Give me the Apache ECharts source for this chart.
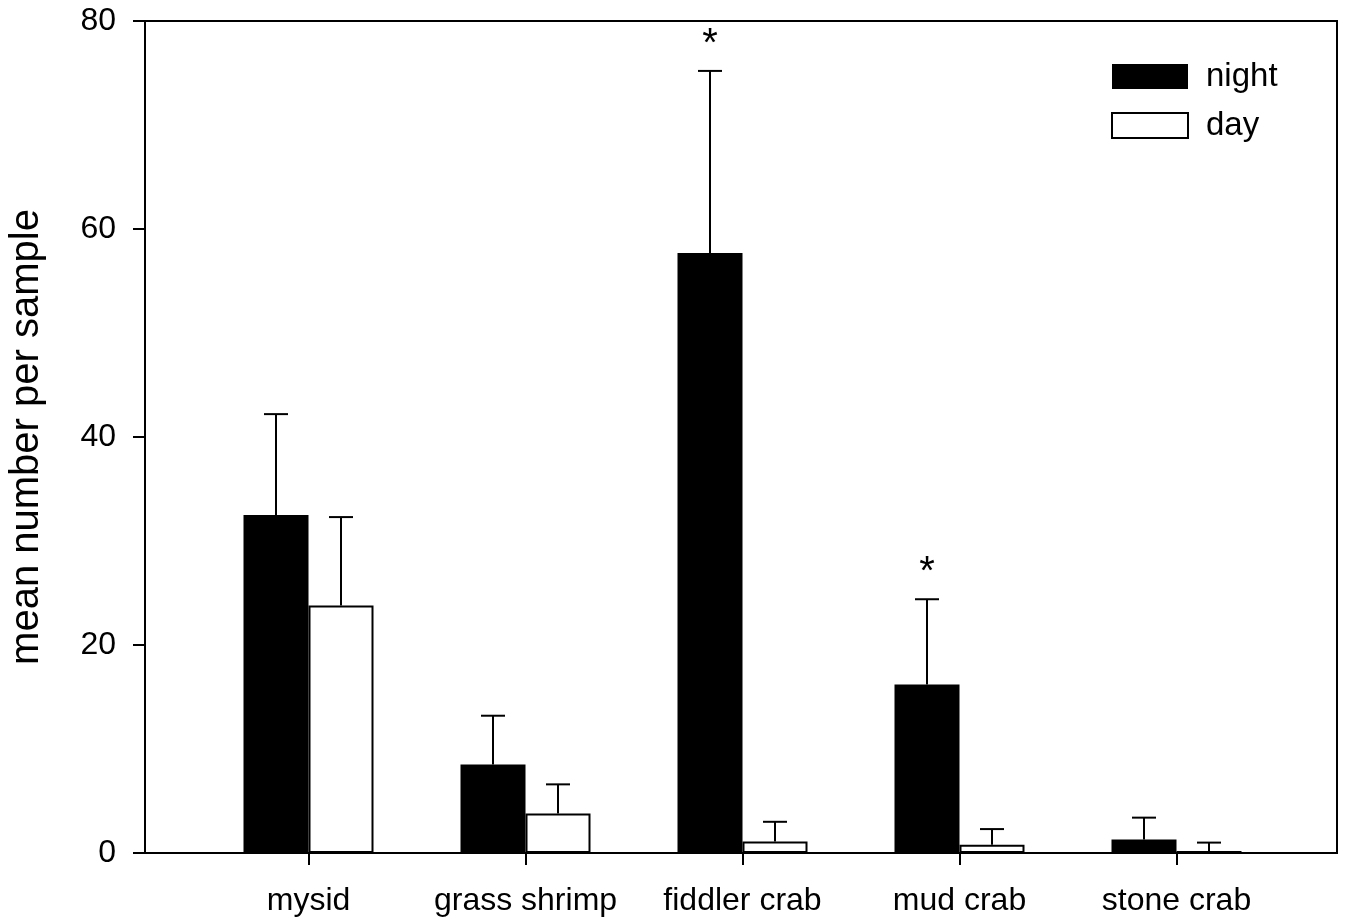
<!DOCTYPE html>
<html>
<head>
<meta charset="utf-8">
<script src="https://cdn.jsdelivr.net/npm/echarts@6/dist/echarts.min.js"></script>
<style>
html,body{margin:0;padding:0;background:#fff;}
#chart{width:1348px;height:923px;}
</style>
</head>
<body>
<div id="chart"></div>
<script>
var categories = ['mysid', 'grass shrimp', 'fiddler crab', 'mud crab', 'stone crab'];
var nightMean = [32.5, 8.5, 57.7, 16.2, 1.3];
var nightSE = [9.7, 4.7, 17.5, 8.2, 2.1];
var dayMean = [23.8, 3.8, 1.1, 0.8, 0.2];
var daySE = [8.5, 2.8, 1.9, 1.5, 0.8];
var significance = ['', '', '*', '*', ''];
var yTicks = [0, 20, 40, 60, 80];

var FONT = "'Liberation Sans', Arial, sans-serif";
var BAR_W = 65;

function errData(means, ses, sign) {
  return means.map(function (m, i) { return [i, m, ses[i], sign]; });
}

function errRender(showSig) {
  return function (params, api) {
    var idx = api.value(0), m = api.value(1), se = api.value(2), sign = api.value(3);
    var p1 = api.coord([idx, m]);
    var p2 = api.coord([idx, m + se]);
    var x = p1[0] + sign * BAR_W / 2;
    var children = [
      { type: 'line', shape: { x1: x, y1: p1[1], x2: x, y2: p2[1] }, style: { stroke: '#000', lineWidth: 2 } },
      { type: 'line', shape: { x1: x - 12, y1: p2[1], x2: x + 12, y2: p2[1] }, style: { stroke: '#000', lineWidth: 2 } }
    ];
    var sig = significance[idx];
    if (showSig && sig) {
      children.push({ type: 'text', style: { text: sig, x: x, y: p2[1] - 26, fontSize: 40, fontFamily: FONT, fill: '#000', align: 'center', verticalAlign: 'middle' } });
    }
    return { type: 'group', children: children };
  };
}

var chart = echarts.init(document.getElementById('chart'));
chart.setOption({
  animation: false,
  backgroundColor: '#fff',
  textStyle: { fontFamily: FONT, color: '#000' },
  grid: [
    { left: 145, right: 11, top: 21, bottom: 70, show: true, borderColor: '#000', borderWidth: 2, backgroundColor: 'transparent',
      containLabel: false, outerBoundsMode: 'none' },
    { left: 200, right: 63, top: 21, bottom: 70, containLabel: false, outerBoundsMode: 'none' }
  ],
  legend: {
    orient: 'vertical', left: 1111, top: 60, padding: 0,
    itemWidth: 76, itemHeight: 25, itemGap: 16,
    icon: 'rect',
    textStyle: { fontSize: 33, lineHeight: 25, color: '#000', fontFamily: FONT, padding: [0, 0, 0, 13] },
    data: ['night', 'day']
  },
  xAxis: [
    { type: 'value', gridIndex: 0, min: 0, max: 1, show: false },
    {
      type: 'category', gridIndex: 1, data: categories, boundaryGap: true,
      axisLine: { show: false },
      axisTick: { show: true, alignWithLabel: true, interval: 0, length: 12, lineStyle: { color: '#000', width: 2 } },
      axisLabel: { fontSize: 32, color: '#000', fontFamily: FONT, margin: 32, interval: 0 },
      splitLine: { show: false }
    }
  ],
  yAxis: [
    {
      type: 'value', gridIndex: 0, min: 0, max: 80, interval: 20,
      name: 'mean number per sample', nameLocation: 'middle', nameRotate: 90, nameGap: 98,
      nameTextStyle: { fontSize: 40, color: '#000', fontFamily: FONT },
      axisLine: { show: true, lineStyle: { color: '#000', width: 2 } },
      axisTick: { show: true, length: 12, lineStyle: { color: '#000', width: 2 } },
      axisLabel: { fontSize: 32, color: '#000', fontFamily: FONT, margin: 29,
        formatter: function (v) { return yTicks.indexOf(v) >= 0 ? String(v) : ''; } },
      splitLine: { show: false }
    },
    { type: 'value', gridIndex: 1, min: 0, max: 80, show: false }
  ],
  series: [
    { name: 'night', type: 'bar', xAxisIndex: 1, yAxisIndex: 1, data: nightMean, barWidth: BAR_W, barGap: '0%',
      itemStyle: { color: '#000', borderColor: '#000', borderWidth: 0 }, z: 2 },
    { name: 'day', type: 'bar', xAxisIndex: 1, yAxisIndex: 1, data: dayMean, barWidth: BAR_W, barGap: '0%',
      itemStyle: { color: '#fff', borderColor: '#000', borderWidth: 2 }, z: 2 },
    { name: 'nightErr', type: 'custom', xAxisIndex: 1, yAxisIndex: 1, data: errData(nightMean, nightSE, -1),
      renderItem: errRender(true), z: 3, silent: true },
    { name: 'dayErr', type: 'custom', xAxisIndex: 1, yAxisIndex: 1, data: errData(dayMean, daySE, 1),
      renderItem: errRender(false), z: 3, silent: true }
  ]
});
</script>
</body>
</html>
